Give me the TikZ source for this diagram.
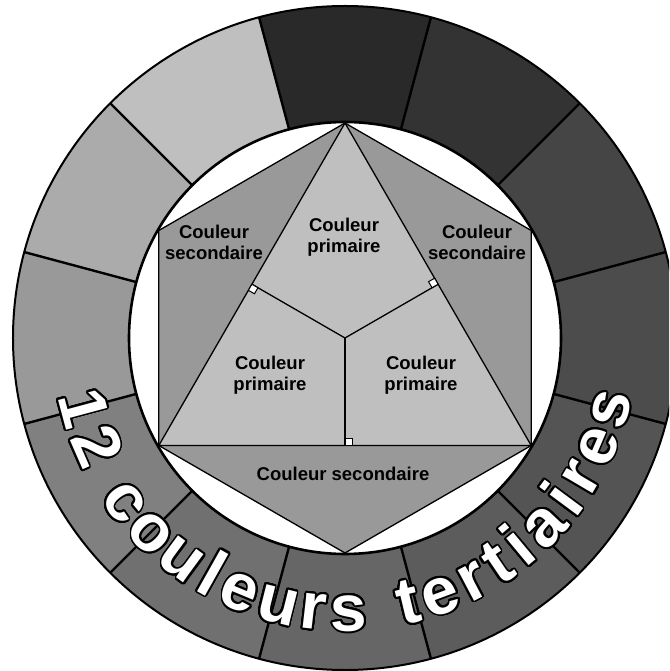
\documentclass[tikz,border=0pt]{standalone}
\usepackage{fontspec}
\setmainfont{Liberation Sans}
\usepackage[copies]{contour}
\contourlength{1.8pt}
\contournumber{32}
\usetikzlibrary{calc}

\newcommand{\tertchar}[1]{\contour{black}{\textcolor{white}{#1}}}

\begin{document}
\begin{tikzpicture}[
    x=1pt, y=1pt,
    ring/.style={draw, line width=2pt},
    spoke/.style={line width=2.4pt},
    hexline/.style={draw, line width=1.3pt, line join=round},
    lbl/.style={align=center, font=\fontsize{18.5}{21}\selectfont\bfseries, inner sep=0pt},
    tert/.style={font=\fontsize{66}{66}\selectfont\bfseries, inner sep=0pt, anchor=base},
    rightang/.style={fill=white, draw, line width=1pt},
]

\useasboundingbox (-345,-333) rectangle (324,338);
\clip (-345,-333) rectangle (324,338);

% Outer ring: the 12 tertiary colours
\foreach \a/\g in {90/84, 60/80, 30/73, 0/70, -30/67, -60/64, -90/60, -120/56, -150/50, 180/40, 150/33, 120/25}
  \fill[black!\g] ({\a-15}:216) arc[start angle=\a-15, end angle=\a+15, radius=216]
    -- ({\a+15}:332) arc[start angle=\a+15, end angle=\a-15, radius=332] -- cycle;
\foreach \a in {15,45,...,345}
  \draw[spoke] (\a:216) -- (\a:332);
\draw[ring] (0,0) circle[radius=332];
\draw[ring, fill=white, line width=2.6pt] (0,0) circle[radius=216];

% Hexagon and triangle
\coordinate (O) at (0,0);
\foreach \n/\a in {t/90, ur/30, lr/-30, b/-90, ll/210, ul/150}
  \coordinate (h\n) at (\a:215);
\coordinate (mB) at ($(hll)!0.5!(hlr)$);
\coordinate (mL) at ($(hll)!0.5!(ht)$);
\coordinate (mR) at ($(hlr)!0.5!(ht)$);

\filldraw[hexline, fill=black!40] (ht) -- (hur) -- (hlr) -- (hb) -- (hll) -- (hul) -- cycle;
\filldraw[hexline, fill=black!25] (ht) -- (hlr) -- (hll) -- cycle;
\draw[hexline] (O) -- (mB);
\draw[hexline] (O) -- (mL);
\draw[hexline] (O) -- (mR);

% Right angles
\foreach \a in {270,30,150}
  \draw[rightang] (\a:107.5) -- ++({\a+90}:7) -- ++({\a+180}:7) -- ++({\a-90}:7) -- cycle;

% Labels
\node[lbl] (pTop) at (-1,101) {Couleur\\primaire};
\node[lbl] (pLeft) at (-75,-37) {Couleur\\primaire};
\node[lbl] (pRight) at (76,-37) {Couleur\\primaire};
\node[lbl] (sLeft) at (-131,96) {Couleur\\secondaire};
\node[lbl] (sRight) at (132,96) {Couleur\\secondaire};
\node[lbl] (sBottom) at (-2,-136) {Couleur secondaire};

% 12 couleurs tertiaires, along the ring
\foreach \ch/\a [count=\i] in {1/195, 2/203.6, c/216.7, o/225.1, u/233.6, l/240.7, e/247.5, u/255.9, r/263.4, s/270.8,
    t/283.4, e/290.4, r/297.8, t/304.1, i/309.8, a/316.7, i/323.5, r/329.5, e/336.8, s/345}
  \node[tert, rotate=\a+90] (tt\i) at (\a:293) {\tertchar{\ch}};

\end{tikzpicture}
\end{document}
